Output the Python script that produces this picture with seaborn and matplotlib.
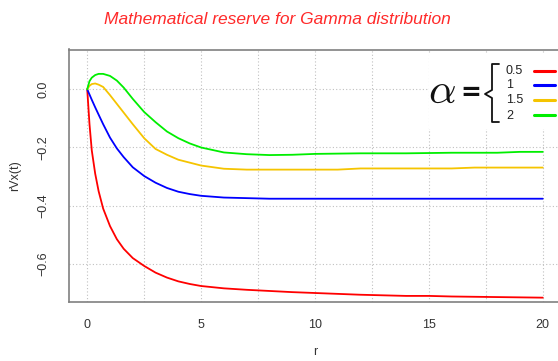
import numpy as np
import pandas as pd
import matplotlib
matplotlib.use("Agg")
import matplotlib.pyplot as plt
from matplotlib.lines import Line2D
from matplotlib.patches import Rectangle
import seaborn as sns

# ---- data ----
r = [0, 0.1, 0.2, 0.35, 0.5, 0.7, 1.0, 1.3, 1.6, 2.0, 2.5, 3.0, 3.5, 4.0, 4.5,
     5.0, 6.0, 7.0, 8.0, 9.0, 10, 11, 12, 13, 14, 15, 16, 17, 18, 19, 20]
v_05 = [0, -0.12, -0.21, -0.29, -0.35, -0.41, -0.47, -0.515, -0.548, -0.58, -0.607,
        -0.63, -0.647, -0.66, -0.669, -0.676, -0.684, -0.689, -0.693, -0.697, -0.70,
        -0.703, -0.706, -0.708, -0.71, -0.71, -0.712, -0.713, -0.714, -0.715, -0.716]
v_1 = [0, -0.018, -0.036, -0.062, -0.087, -0.12, -0.166, -0.203, -0.233, -0.268, -0.298,
       -0.321, -0.339, -0.352, -0.36, -0.366, -0.372, -0.374, -0.376, -0.376, -0.376,
       -0.376, -0.376, -0.376, -0.376, -0.376, -0.376, -0.376, -0.376, -0.376, -0.376]
v_15 = [0, 0.012, 0.018, 0.02, 0.016, 0.008, -0.02, -0.05, -0.08, -0.12, -0.168,
        -0.205, -0.225, -0.242, -0.252, -0.262, -0.273, -0.276, -0.276, -0.276, -0.276,
        -0.276, -0.272, -0.272, -0.272, -0.272, -0.272, -0.269, -0.269, -0.269, -0.269]
v_2 = [0, 0.028, 0.04, 0.049, 0.053, 0.053, 0.046, 0.03, 0.006, -0.033, -0.078,
       -0.113, -0.145, -0.168, -0.186, -0.2, -0.217, -0.223, -0.226, -0.225, -0.222,
       -0.221, -0.22, -0.22, -0.22, -0.219, -0.218, -0.218, -0.218, -0.215, -0.215]
alphas = ["0.5", "1", "1.5", "2"]
colors = ["#ff0000", "#0000ff", "#f5c400", "#00ee00"]
xticks = [0, 5, 10, 15, 20]
yticks = [0.0, -0.2, -0.4, -0.6]
ytick_labels = ["0.0", "\u22120.2", "\u22120.4", "\u22120.6"]

df = pd.concat([
    pd.DataFrame({"r": r, "v": vals, "alpha": a})
    for a, vals in zip(alphas, [v_05, v_1, v_15, v_2])
])

sns.set_style("white")
plt.rcParams["font.family"] = ["Liberation Sans", "DejaVu Sans"]

W, H = 558, 361
fig = plt.figure(figsize=(W / 100, H / 100), dpi=100)

def fx(px):
    return px / W

def fy(py):
    return 1 - py / H

left, right, top, bottom = 69, 561, 49.5, 302
ax = fig.add_axes([fx(left), fy(bottom), fx(right) - fx(left), (bottom - top) / H])

sns.lineplot(data=df, x="r", y="v", hue="alpha", palette=colors, hue_order=alphas,
             legend=False, linewidth=1.3, ax=ax, sort=True, estimator=None)

ax.set_xlim(-0.8, 20.8)
y0 = 89.3
ppu = 291.0
ax.set_ylim(-(bottom - y0) / ppu, (y0 - top) / ppu)

ax.set_xticks(xticks)
ax.set_xticks(np.arange(0, 20.01, 2.5), minor=True)
ax.set_yticks(yticks)
ax.set_yticklabels(ytick_labels, rotation=90, va="center")
ax.grid(True, which="both", axis="x", ls=(0, (1, 2)), color="#c0c0c0", lw=0.8)
ax.grid(True, which="major", axis="y", ls=(0, (1, 2)), color="#c0c0c0", lw=0.8)
ax.tick_params(axis="both", which="major", length=5, width=1, color="#707070",
               labelsize=9, labelcolor="#333333", pad=7)
ax.tick_params(axis="y", which="major", pad=9)
ax.tick_params(axis="x", which="minor", length=0)
for s in ax.spines.values():
    s.set_color("#808080")
    s.set_linewidth(1.2)

ax.set_xlabel("r", fontsize=9, color="#333333", labelpad=11)
ax.set_ylabel("rVx(t)", fontsize=9, color="#333333", labelpad=12)

fig.text(fx(277), fy(20), "Mathematical reserve for Gamma distribution",
         color="#ff2a2a", fontsize=12.5, style="italic", ha="center", va="center")

# legend box
fig.patches.append(Rectangle((fx(429), fy(129)), fx(W) - fx(429), (129 - 53) / H,
                             transform=fig.transFigure, facecolor="white",
                             edgecolor="none", zorder=5))
fig.text(fx(442), fy(92), r"$\alpha$", fontsize=31, math_fontfamily="cm",
         ha="center", va="center", color="#111111", zorder=6)
fig.text(fx(471), fy(93), "=", fontsize=18, fontweight="bold", family="DejaVu Sans",
         ha="center", va="center", color="#111111", zorder=6)
bx = [fx(499), fx(492), fx(492), fx(485), fx(492), fx(492), fx(499)]
by = [fy(64), fy(64), fy(90), fy(94), fy(98), fy(122), fy(122)]
fig.lines.append(Line2D(bx, by, transform=fig.transFigure, color="#111111",
                        lw=1.3, zorder=6))
label_y = [71, 85, 100, 116]
for lab, c, yy in zip(alphas, colors, label_y):
    fig.text(fx(506), fy(yy), lab, fontsize=9, color="#222222",
             ha="left", va="center", zorder=6)
    fig.lines.append(Line2D([fx(534), fx(555)], [fy(yy - 0.5), fy(yy - 0.5)],
                            transform=fig.transFigure, color=c, lw=2.2, zorder=6))

fig.savefig("out.png", dpi=100)
